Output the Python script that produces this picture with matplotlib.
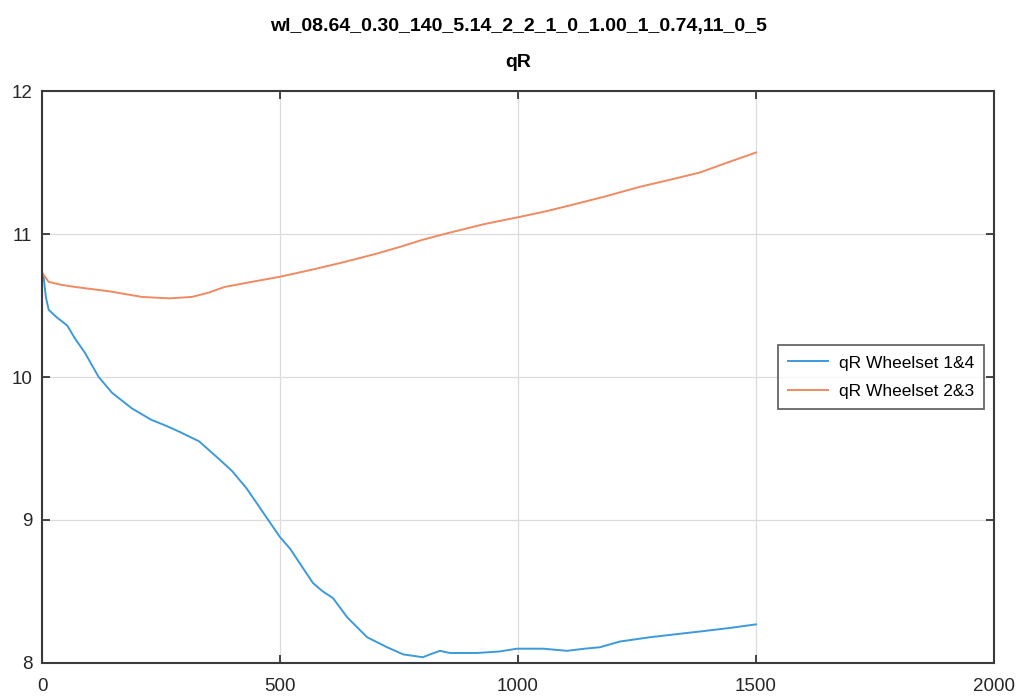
import matplotlib.pyplot as plt

# qR per wheelset pair against distance
x_w14 = [0, 3, 8, 14, 30, 53, 69, 90, 119, 147, 189, 230, 260, 290, 330, 374, 400,
         430, 465, 500, 521, 545, 569, 590, 611, 641, 683, 725, 759, 780, 800, 815,
         836, 857, 914, 960, 998, 1053, 1103, 1140, 1172, 1214, 1277, 1355, 1382,
         1445, 1500]
y_w14 = [10.73, 10.71, 10.56, 10.47, 10.42, 10.36, 10.27, 10.17, 10.00, 9.89,
         9.78, 9.70, 9.66, 9.615, 9.55, 9.42, 9.34, 9.22, 9.05, 8.88, 8.80, 8.68,
         8.56, 8.50, 8.455, 8.32, 8.18, 8.11, 8.06, 8.05, 8.04, 8.06, 8.085, 8.07,
         8.07, 8.08, 8.10, 8.10, 8.085, 8.10, 8.11, 8.15, 8.18, 8.21, 8.22, 8.245,
         8.27]

x_w23 = [0, 14, 40, 69, 140, 210, 267, 315, 350, 384, 440, 498, 560, 630, 700,
         752, 800, 857, 930, 1004, 1060, 1109, 1180, 1256, 1320, 1382, 1440, 1500]
y_w23 = [10.73, 10.665, 10.645, 10.63, 10.60, 10.56, 10.55, 10.56, 10.59, 10.63,
         10.665, 10.70, 10.745, 10.80, 10.86, 10.91, 10.96, 11.01, 11.07, 11.12,
         11.16, 11.20, 11.26, 11.33, 11.38, 11.43, 11.50, 11.57]

labels = ["qR Wheelset 1&4", "qR Wheelset 2&3"]
title = "wl_08.64_0.30_140_5.14_2_2_1_0_1.00_1_0.74,11_0_5\n\nqR"

font = ["Liberation Sans Narrow", "Liberation Sans", "DejaVu Sans"]
plt.rcParams["font.family"] = font

fig = plt.figure(figsize=(10.2, 6.97), dpi=100)
ax = fig.add_axes([0.0412, 0.0488, 0.9333, 0.8206])

ax.plot(x_w14, y_w14, color="#3d9ad9", lw=1.4, label=labels[0])
ax.plot(x_w23, y_w23, color="#ef8a62", lw=1.4, label=labels[1])

ax.set_xlim(0, 2000)
ax.set_ylim(8, 12)
ax.set_xticks([0, 500, 1000, 1500, 2000])
ax.set_yticks([8, 9, 10, 11, 12])
ax.grid(True, color="#dcdcdc", lw=0.9)
ax.set_axisbelow(True)
for s in ax.spines.values():
    s.set_color("#3a3a3a")
    s.set_linewidth(1.5)
ax.tick_params(direction="in", length=6, width=1.2, color="#262626",
               top=True, right=True, labelsize=13.5, labelcolor="#262626")
ax.tick_params(axis="x", pad=11)
ax.tick_params(axis="y", pad=7)

ax.set_title(title, fontsize=14, fontweight="bold", pad=17, linespacing=1.1)

leg = ax.legend(loc="upper left", bbox_to_anchor=(0.773, 0.556), fancybox=False,
                edgecolor="#404040", fontsize=12.5, handlelength=2.3,
                borderpad=0.6, labelspacing=0.75, handletextpad=0.6,
                borderaxespad=0)
leg.get_frame().set_linewidth(1.3)

fig.savefig("out.png", dpi=100)
